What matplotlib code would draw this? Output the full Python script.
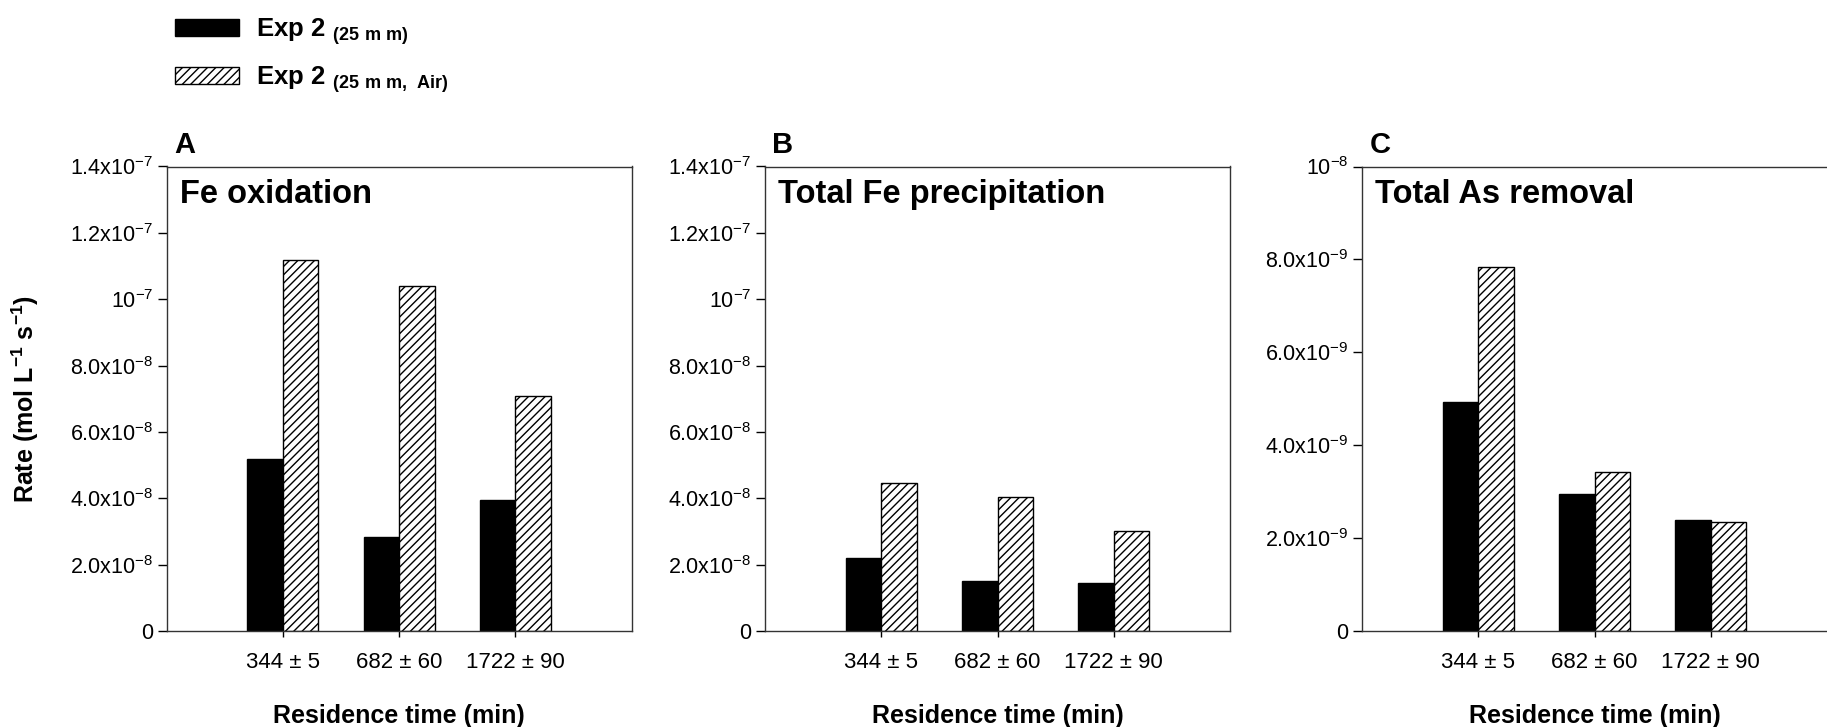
import numpy as np
import matplotlib
matplotlib.use('Agg')
import matplotlib.pyplot as plt

plt.rcParams['font.family'] = ['Liberation Sans', 'DejaVu Sans']
plt.rcParams['mathtext.fontset'] = 'custom'
plt.rcParams['mathtext.rm'] = 'Liberation Sans'
plt.rcParams['mathtext.bf'] = 'Liberation Sans:bold'
plt.rcParams['hatch.linewidth'] = 1.0

# data
categories = ['344 ± 5', '682 ± 60', '1722 ± 90']
fe_ox_25mm = [5.18e-8, 2.82e-8, 3.94e-8]
fe_ox_air = [1.117e-7, 1.039e-7, 7.09e-8]
fe_prec_25mm = [2.2e-8, 1.5e-8, 1.45e-8]
fe_prec_air = [4.45e-8, 4.05e-8, 3.0e-8]
as_rem_25mm = [4.92e-9, 2.96e-9, 2.39e-9]
as_rem_air = [7.83e-9, 3.42e-9, 2.35e-9]

ticks_fe = [0, 2e-8, 4e-8, 6e-8, 8e-8, 1e-7, 1.2e-7, 1.4e-7]
ticklabels_fe = ['0', r'2.0x10$^{\mathregular{-8}}$', r'4.0x10$^{\mathregular{-8}}$',
                 r'6.0x10$^{\mathregular{-8}}$', r'8.0x10$^{\mathregular{-8}}$',
                 r'10$^{\mathregular{-7}}$', r'1.2x10$^{\mathregular{-7}}$',
                 r'1.4x10$^{\mathregular{-7}}$']
ticks_as = [0, 2e-9, 4e-9, 6e-9, 8e-9, 1e-8]
ticklabels_as = ['0', r'2.0x10$^{\mathregular{-9}}$', r'4.0x10$^{\mathregular{-9}}$',
                 r'6.0x10$^{\mathregular{-9}}$', r'8.0x10$^{\mathregular{-9}}$',
                 r'10$^{\mathregular{-8}}$']

panels = [
    ('A', 'Fe oxidation', fe_ox_25mm, fe_ox_air, 1.4e-7, ticks_fe, ticklabels_fe),
    ('B', 'Total Fe precipitation', fe_prec_25mm, fe_prec_air, 1.4e-7, ticks_fe, ticklabels_fe),
    ('C', 'Total As removal', as_rem_25mm, as_rem_air, 1e-8, ticks_as, ticklabels_as),
]

W, H = 1827, 727
fig = plt.figure(figsize=(W / 100, H / 100), dpi=100)
lefts = [166.7, 765, 1362]
ax_w, ax_h, ax_bottom = 465, 464.5, 96

x = np.arange(1, len(categories) + 1)
bw = 0.305
handles = None
for i, (letter, title, s1, s2, ymax, yt, ytl) in enumerate(panels):
    ax = fig.add_axes([lefts[i] / W, ax_bottom / H, ax_w / W, ax_h / H])
    b1 = ax.bar(x - bw, s1, width=bw, align='edge', color='black',
                edgecolor='black', linewidth=1.0)
    b2 = ax.bar(x, s2, width=bw, align='edge', color='white',
                edgecolor='black', linewidth=1.0, hatch='////')
    handles = [b1, b2]
    ax.set_xlim(0, 4)
    ax.set_ylim(0, ymax)
    ax.set_xticks(x)
    ax.set_xticklabels(categories, fontsize=16)
    ax.set_yticks(yt)
    ax.set_yticklabels(ytl, fontsize=15.5)
    ax.tick_params(axis='y', direction='out', length=6.3, width=1, pad=3.5)
    ax.tick_params(axis='x', direction='out', length=4, width=1, pad=11)
    for sp in ax.spines.values():
        sp.set_linewidth(1.0)
        sp.set_color('#333333')
    if letter == 'C':
        ax.spines['right'].set_visible(False)
    ax.text(0.028, 0.921, title, transform=ax.transAxes, fontsize=23.5,
            fontweight='bold', va='baseline', ha='left')
    ax.text(0.016, 1.029, letter, transform=ax.transAxes, fontsize=21,
            fontweight='bold', va='baseline', ha='left')
    ax.set_xlabel('Residence time (min)', fontsize=18, fontweight='bold')
    ax.xaxis.label.set_va('baseline')
    ax.xaxis.set_label_coords(0.5, -(723 - 631) / ax_h)
    if letter == 'A':
        ax.set_ylabel(r'Rate (mol L$^{\mathbf{-1}}$ s$^{\mathbf{-1}}$)',
                      fontsize=18, fontweight='bold')
        ax.yaxis.set_label_coords(-0.27, 0.5)

fig.legend(handles, [r'Exp 2 $_{\mathbf{(25\ m\ m)}}$',
                     r'Exp 2 $_{\mathbf{(25\ m\ m,\ Air)}}$'],
           loc='upper left', bbox_to_anchor=(175 / W, 1 - 16 / H),
           frameon=False, prop={'weight': 'bold', 'size': 18.5},
           handlelength=2.5, handleheight=0.62, handletextpad=0.66,
           borderpad=0, borderaxespad=0, labelspacing=0.66)

fig.savefig('out.png', dpi=100)
